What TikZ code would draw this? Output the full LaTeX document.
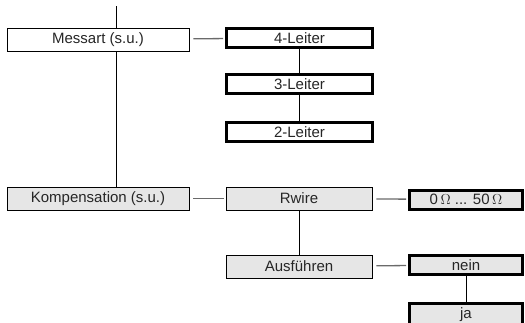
\documentclass[tikz,border=0pt]{standalone}
\usepackage{fontspec}
\setmainfont{Liberation Sans}
\usepackage{tikz}

\definecolor{boxgray}{HTML}{E6E6E6}
\definecolor{linkgray}{HTML}{6A6A6A}

\begin{document}
\begin{tikzpicture}[x=1pt, y=-1pt,
    font=\fontsize{15}{17}\selectfont,
    menubox/.style={draw, line width=0.8pt, minimum width=182pt, minimum height=23pt, inner sep=0pt, text=black!85},
    subbox/.style={draw, line width=0.8pt, fill=boxgray, minimum width=146pt, minimum height=23pt, inner sep=0pt, text=black!85},
    choice/.style={draw, line width=3pt, minimum height=19pt, inner sep=0pt, text=black!85},
    link/.style={linkgray, line width=1.3pt, shorten <=4pt, shorten >=2pt}
  ]
  \useasboundingbox (0,0) rectangle (525,322);
  \coordinate (top) at (116,6);
  \draw[line width=0.8pt] (top) -- (116,187);
  \node[menubox, fill=white] (messart) at (98,39.5) {Messart (s.u.)};
  \node[menubox, fill=boxgray] (komp) at (98,198.5) {Kompensation (s.u.)};
  \node[choice, fill=white, minimum width=146pt] (l4) at (299.5,38) {4-Leiter};
  \node[choice, fill=white, minimum width=146pt] (l3) at (299.5,84) {3-Leiter};
  \node[choice, fill=white, minimum width=146pt] (l2) at (299.5,132) {2-Leiter};
  \node[subbox] (rwire) at (299,198.5) {Rwire};
  \node[subbox] (ausf) at (299,266.5) {Ausführen};
  \node[choice, fill=boxgray, minimum width=113pt] (ohm) at (466,199.5) {0\,$\Omega$ ... 50\,$\Omega$};
  \node[choice, fill=boxgray, minimum width=113pt] (nein) at (466,265) {nein};
  \node[choice, fill=boxgray, minimum width=113pt, minimum height=23pt] (ja) at (466,315) {ja};
  \draw[link] (messart) -- (l4);
  \draw[link] (komp) -- (rwire);
  \draw[link] (rwire) -- (ohm);
  \draw[link] (ausf) -- (nein);
  \draw[line width=0.8pt] (l4) -- (l3);
  \draw[line width=0.8pt] (l3) -- (l2);
  \draw[line width=0.8pt] (rwire) -- (ausf);
  \draw[line width=0.8pt] (nein) -- (ja);
\end{tikzpicture}
\end{document}
